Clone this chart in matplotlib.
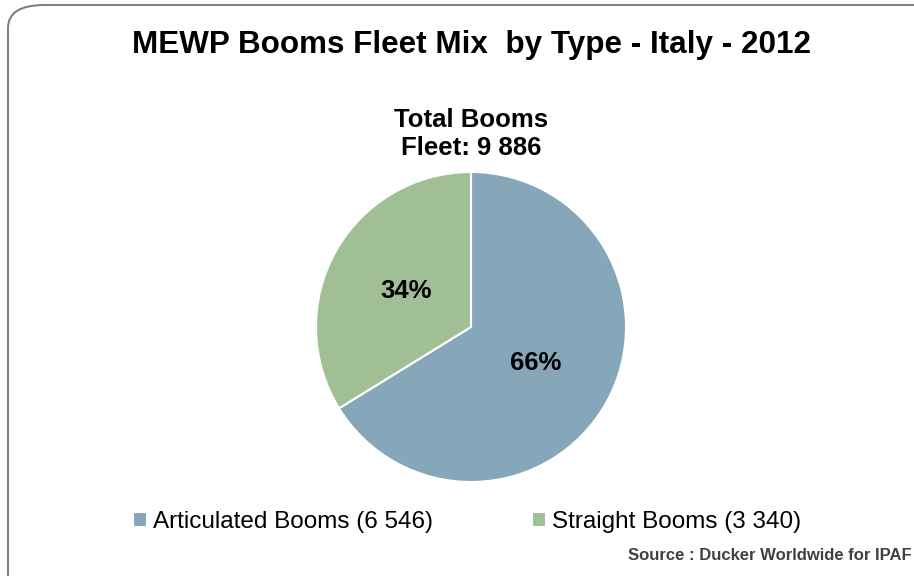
import matplotlib
matplotlib.use("Agg")
import matplotlib.pyplot as plt
from matplotlib.patches import FancyBboxPatch

categories = ["Articulated Booms", "Straight Booms"]
counts = [6546, 3340]
count_labels = ["6 546", "3 340"]
total_label = "9 886"
colors = ["#86A7BA", "#A1BF94"]

plt.rcParams['font.family'] = ['Liberation Sans', 'DejaVu Sans']
labels = [f"{c} ({n})" for c, n in zip(categories, count_labels)]

W, H = 914, 576
fig = plt.figure(figsize=(W / 100, H / 100), dpi=100)
fig.patch.set_facecolor("white")

border = FancyBboxPatch((8 / W, -0.2), 1.2, (576 - 5) / H + 0.2,
                        boxstyle="round,pad=0,rounding_size=0.04",
                        transform=fig.transFigure, facecolor="none",
                        edgecolor="#808080", linewidth=1.5, zorder=0)
fig.patches.append(border)

cx, cy, r = 471, 327, 155
ax = fig.add_axes([(cx - r) / W, (H - cy - r) / H, 2 * r / W, 2 * r / H])
wedges, texts, autotexts = ax.pie(
    counts, colors=colors, startangle=90, counterclock=False,
    autopct=lambda p: f"{p:.0f}%", pctdistance=0.48, radius=1.0,
    wedgeprops=dict(edgecolor="white", linewidth=1.5),
    textprops=dict(fontsize=18.5, fontweight="bold", color="black"))
ax.set_xlim(-1, 1)
ax.set_ylim(-1, 1)
ax.set_aspect("equal")
ax.axis("off")

fig.text(472 / W, 1 - 45 / H,
         "MEWP Booms Fleet Mix  by Type - Italy - 2012",
         ha="center", va="center", fontsize=22.6, fontweight="bold")
fig.text(471 / W, 1 - 134 / H, f"Total Booms\nFleet: {total_label}",
         ha="center", va="center", fontsize=18.5, fontweight="bold",
         linespacing=1.2)

lsize = 17.5
sq = 10.0 / lsize
for wedge, lab, x in zip(wedges, labels, [133, 532]):
    fig.legend([wedge], [lab], loc="center left",
               bbox_to_anchor=(x / W, 1 - 522 / H), frameon=False,
               prop={'family': 'Liberation Sans', 'size': lsize},
               borderpad=0, borderaxespad=0,
               handlelength=sq, handleheight=sq,
               handletextpad=0.25)

fig.text(912 / W, 1 - 555 / H, "Source : Ducker Worldwide for IPAF",
         ha="right", va="center", fontsize=12, fontweight="bold",
         color="#404040")

fig.savefig("out.png", dpi=100, facecolor="white")
